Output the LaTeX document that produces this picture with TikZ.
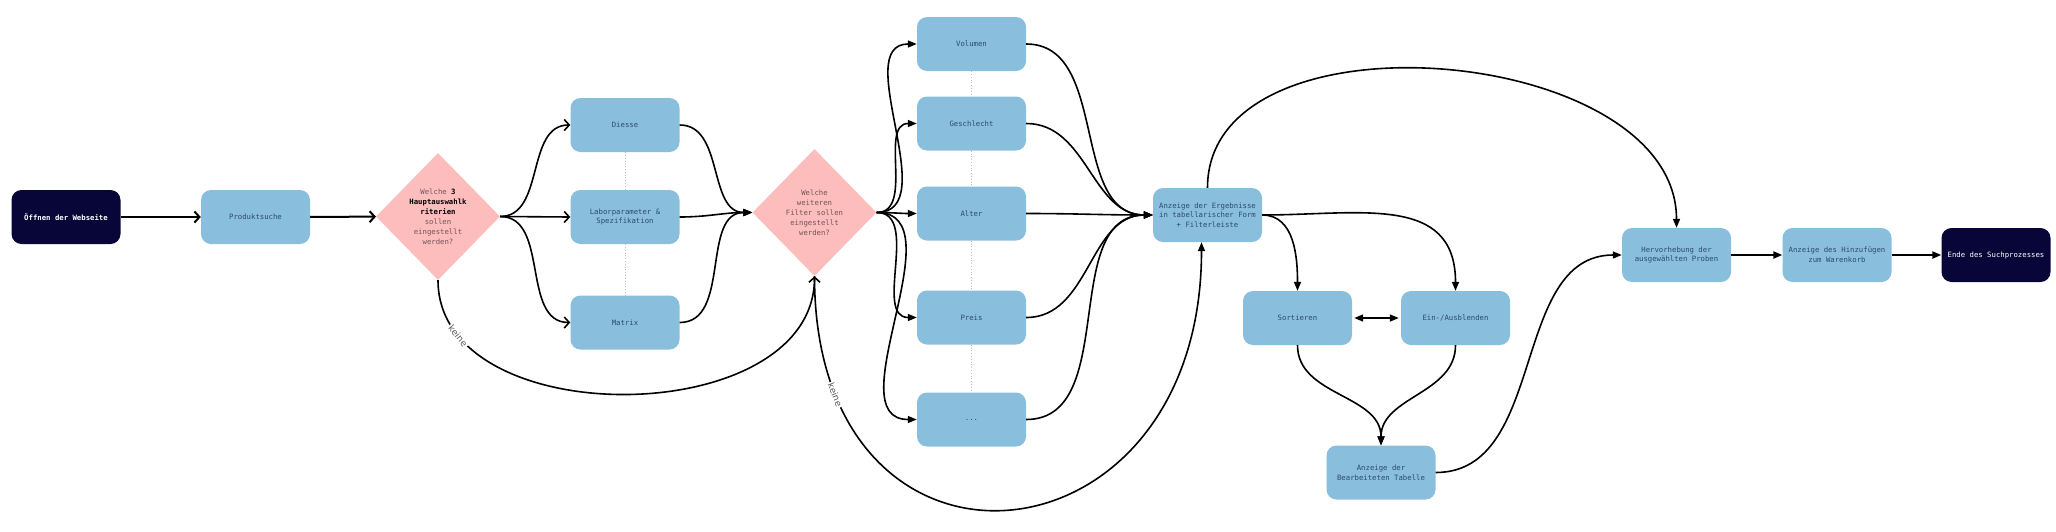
\documentclass[tikz,border=0pt]{standalone}
\usepackage{fontspec}
\setmonofont{DejaVu Sans Mono}
\setsansfont{DejaVu Sans}
\usepackage{tikz}
\usetikzlibrary{arrows.meta}
\usetikzlibrary{shapes.geometric}

\definecolor{navy}{RGB}{8,6,56}
\definecolor{boxblue}{RGB}{137,190,221}
\definecolor{boxtext}{RGB}{45,75,110}
\definecolor{rosa}{RGB}{253,189,189}
\definecolor{rosatext}{RGB}{115,85,90}

\tikzset{
  box/.style={rectangle, rounded corners=10pt, fill=boxblue, text=boxtext, minimum width=109pt, minimum height=54pt, align=center, font={\ttfamily\fontsize{7.3}{9.7}\selectfont}},
  endbox/.style={box, fill=navy, text=white},
  frage/.style={diamond, fill=rosa, text=rosatext, minimum width=124pt, minimum height=127pt, inner sep=0pt, align=center, font={\ttfamily\fontsize{7.3}{10}\selectfont}},
  pfeil/.style={line width=1.6pt, -{Straight Barb[length=5pt,width=11pt]}},
  vollpfeil/.style={line width=1.6pt, -{Triangle[length=9pt,width=7pt]}},
  punkt/.style={dotted, black!25, line width=0.8pt},
  keinetext/.style={fill=white, inner sep=1.5pt, text=black!65, font={\sffamily\fontsize{9}{10}\selectfont}}
}

\begin{document}
\begin{tikzpicture}[x=1pt,y=1pt]
\useasboundingbox (0,0) rectangle (2056,-531);

% 시작
\node[endbox, font={\ttfamily\bfseries\fontsize{7.3}{9.7}\selectfont}] (start) at (66,-217) {Öffnen der Webseite};
\node[box] (prod) at (255.5,-217) {Produktsuche};
\node[frage] (d1) at (438,-216.5) {Welche {\color{black}\bfseries 3}\\{\color{black}\bfseries Hauptauswahlk}\\{\color{black}\bfseries riterien}\\sollen\\eingestellt\\werden?};

% 주요 기준
\node[box] (diesse) at (625,-125) {Diesse};
\node[box] (labor) at (625,-217) {Laborparameter \&\\Spezifikation};
\node[box] (matrix) at (625,-322.5) {Matrix};

\node[frage] (d2) at (814.5,-212.5) {Welche\\weiteren\\Filter sollen\\eingestellt\\werden?};

% 필터
\node[box] (volumen) at (971.5,-44) {Volumen};
\node[box] (geschlecht) at (971.5,-123.5) {Geschlecht};
\node[box] (alter) at (971.5,-213.5) {Alter};
\node[box] (preis) at (971.5,-317.5) {Preis};
\node[box] (dots) at (971.5,-419.5) {...};

% 결과
\node[box] (anzeige) at (1207.5,-215) {Anzeige der Ergebnisse\\in tabellarischer Form\\+ Filterleiste};
\node[box] (sortieren) at (1297.5,-318) {Sortieren};
\node[box] (einaus) at (1455.5,-318) {Ein-/Ausblenden};
\node[box] (bearb) at (1381,-472.5) {Anzeige der\\Bearbeiteten Tabelle};

% 끝
\node[box] (hervor) at (1676.5,-255) {Hervorhebung der\\ausgewählten Proben};
\node[box] (hinzu) at (1837,-255) {Anzeige des Hinzufügen\\zum Warenkorb};
\node[endbox] (ende) at (1996,-255) {Ende des Suchprozesses};

% 점선
\draw[punkt] (diesse) -- (labor);
\draw[punkt] (labor) -- (matrix);
\draw[punkt] (volumen) -- (geschlecht) -- (alter) -- (preis) -- (dots);

\draw[pfeil, line width=2pt] (start) -- (prod);
\draw[pfeil, line width=2pt] (prod) -- (d1);
\draw[pfeil] (d1.east) to[out=0,in=180] (diesse.west);
\draw[pfeil] (d1.east) -- (labor.west);
\draw[pfeil] (d1.east) to[out=0,in=180] (matrix.west);
\foreach \k in {diesse,labor,matrix}
  \draw[vollpfeil] (\k.east) to[out=0,in=180] (d2.west);
\draw[pfeil] (d1.south) to[out=-90,in=-90,looseness=1.05] node[keinetext, pos=0.14, sloped] {keine} (d2.south);

\foreach \f in {volumen,geschlecht,alter,preis,dots}
  \draw[vollpfeil] (d2.east) to[out=0,in=180] (\f.west);
\foreach \f in {volumen,geschlecht,alter,preis,dots}
  \draw[vollpfeil] (\f.east) to[out=0,in=180] (anzeige.west);
\draw[vollpfeil] (d2.south) to[out=-90,in=-90,looseness=2.2] node[keinetext, pos=0.14, sloped] {keine} ([xshift=-6pt]anzeige.south);

\draw[vollpfeil] (anzeige.north) to[out=90,in=90] (hervor.north);
\draw[vollpfeil] (anzeige.east) to[out=0,in=90] (sortieren.north);
\draw[vollpfeil] (anzeige.east) to[out=0,in=90,looseness=1.2] (einaus.north);
\draw[line width=1.6pt, {Triangle[length=9pt,width=7pt]}-{Triangle[length=9pt,width=7pt]}, shorten <=2pt, shorten >=2pt] (sortieren) -- (einaus);
\draw[vollpfeil] (sortieren.south) to[out=-90,in=90] (bearb.north);
\draw[vollpfeil] (einaus.south) to[out=-90,in=90] (bearb.north);
\draw[vollpfeil] (bearb.east) to[out=0,in=180] (hervor.west);

\draw[vollpfeil, line width=2pt] (hervor) -- (hinzu);
\draw[vollpfeil, line width=2pt] (hinzu) -- (ende);
\end{tikzpicture}
\end{document}
